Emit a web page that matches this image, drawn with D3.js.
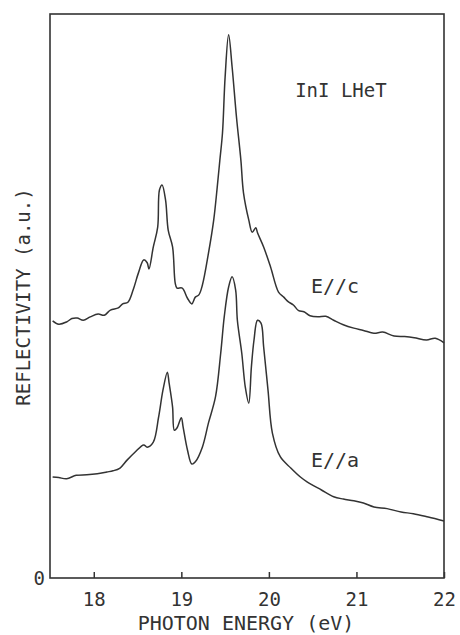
<!DOCTYPE html>
<html>
<head>
<meta charset="utf-8">
<script src="https://cdn.jsdelivr.net/npm/d3@7"></script>
<style>
  body { margin: 0; background: #fff; }
  text { font-family: "DejaVu Sans Mono", "Liberation Mono", monospace; fill: #333; }
</style>
</head>
<body>
<div id="vis-container"></div>
<script>
// photon energy (eV) / reflectivity (a.u.) for E//c
const energyC = [17.53, 17.6, 17.69, 17.75, 17.81, 17.88, 17.96, 18.05, 18.12, 18.19, 18.28, 18.33, 18.39, 18.45, 18.51, 18.57, 18.61, 18.63, 18.68, 18.73, 18.75, 18.78, 18.82, 18.85, 18.90, 18.93, 18.95, 19.01, 19.07, 19.12, 19.16, 19.20, 19.24, 19.31, 19.37, 19.41, 19.44, 19.47, 19.50, 19.54, 19.58, 19.63, 19.68, 19.71, 19.77, 19.81, 19.85, 19.87, 19.94, 20.02, 20.11, 20.17, 20.22, 20.28, 20.34, 20.40, 20.47, 20.56, 20.65, 20.74, 20.85, 20.97, 21.08, 21.20, 21.30, 21.43, 21.55, 21.66, 21.80, 21.9, 22.0]
const reflC   = [45.6, 45.0, 45.4, 46.0, 46.1, 45.7, 46.3, 46.8, 46.6, 47.5, 47.9, 48.6, 48.9, 51.1, 54.1, 56.4, 55.9, 54.8, 58.7, 62.2, 68.8, 69.7, 67.0, 61.7, 58.7, 52.3, 51.4, 51.4, 49.6, 48.6, 49.8, 50.2, 51.9, 57.6, 63.5, 69.3, 74.1, 78.9, 88.8, 96.3, 90.6, 81.7, 74.1, 68.3, 63.5, 61.3, 62.1, 61.2, 58.7, 55.1, 50.7, 49.8, 49.0, 48.4, 47.4, 47.2, 46.5, 46.3, 46.4, 45.7, 44.9, 44.3, 43.9, 43.4, 43.6, 42.9, 42.8, 42.6, 42.2, 42.5, 41.7]

// E//a
const energyA = [17.53, 17.6, 17.69, 17.8, 17.92, 18.04, 18.15, 18.22, 18.30, 18.38, 18.47, 18.57, 18.61, 18.68, 18.74, 18.79, 18.84, 18.86, 18.90, 18.92, 18.95, 19.00, 19.02, 19.07, 19.12, 19.16, 19.24, 19.31, 19.39, 19.45, 19.49, 19.54, 19.58, 19.62, 19.64, 19.69, 19.73, 19.77, 19.80, 19.83, 19.87, 19.91, 19.94, 19.99, 20.04, 20.13, 20.25, 20.36, 20.44, 20.60, 20.74, 20.85, 20.97, 21.08, 21.20, 21.35, 21.51, 21.65, 21.82, 22.0]
const reflA   = [17.9, 17.8, 17.6, 18.2, 18.3, 18.5, 18.8, 19.0, 19.5, 20.9, 22.3, 23.6, 23.2, 24.1, 28.5, 33.3, 36.5, 34.6, 30.3, 26.2, 26.6, 28.4, 26.8, 22.7, 20.2, 20.6, 23.2, 27.5, 32.1, 39.9, 46.3, 51.6, 53.4, 51.1, 45.7, 39.9, 33.9, 31.0, 37.4, 42.2, 45.7, 45.2, 41.0, 33.3, 25.7, 21.5, 19.5, 17.9, 17.0, 15.6, 14.4, 14.0, 13.7, 13.3, 12.6, 12.3, 11.7, 11.4, 10.8, 10.1]

const xTicks = [18, 19, 20, 21, 22]

const svgWidth = 460
const svgHeight = 635
const margin = { left: 50, right: 16, top: 14, bottom: 57 }
const width = svgWidth - margin.left - margin.right
const height = svgHeight - margin.top - margin.bottom

const svg = d3.select('#vis-container')
    .append('svg')
    .attr('width', svgWidth)
    .attr('height', svgHeight)

const g = svg.append('g')
    .attr('transform', `translate(${margin.left},${margin.top})`)

const xScale = d3.scaleLinear().domain([17.5, 22]).range([0, width])
const yScale = d3.scaleLinear().domain([0, 100]).range([height, 0])

// frame
g.append('rect')
    .attr('x', 0)
    .attr('y', 0)
    .attr('width', width)
    .attr('height', height)
    .attr('fill', 'none')
    .attr('stroke', '#333')
    .attr('stroke-width', 1.6)

// x axis, ticks pointing inward
const xAxis = d3.axisBottom(xScale)
    .tickValues(xTicks)
    .tickSizeInner(-6)
    .tickSizeOuter(0)
    .tickPadding(15)
    .tickFormat(d3.format('d'))

const ax = g.append('g')
    .attr('transform', `translate(0,${height})`)
    .call(xAxis)
ax.select('.domain').remove()
ax.selectAll('line').attr('stroke', '#333').attr('stroke-width', 1.5)
ax.selectAll('text')
    .style('font-size', '19px')
    .style('font-family', '"DejaVu Sans Mono", "Liberation Mono", monospace')
    .attr('fill', '#333')

// y "0"
g.append('text')
    .attr('x', -5)
    .attr('y', yScale(0))
    .attr('dy', '0.35em')
    .attr('text-anchor', 'end')
    .style('font-size', '19px')
    .text('0')

// curves
const line = d3.line()
    .x(d => xScale(d[0]))
    .y(d => yScale(d[1]))
    .curve(d3.curveCatmullRom.alpha(0.5))

const series = [
    d3.zip(energyC, reflC),
    d3.zip(energyA, reflA)
]

g.selectAll('path.curve')
    .data(series)
    .join('path')
    .attr('class', 'curve')
    .attr('d', line)
    .attr('fill', 'none')
    .attr('stroke', '#333')
    .attr('stroke-width', 1.5)
    .attr('stroke-linejoin', 'round')

// labels
g.append('text')
    .attr('x', xScale(20.3))
    .attr('y', yScale(85.3))
    .style('font-size', '19px')
    .text('InI LHeT')

g.append('text')
    .attr('x', xScale(20.48))
    .attr('y', yScale(50.5))
    .style('font-size', '20px')
    .text('E//c')

g.append('text')
    .attr('x', xScale(20.48))
    .attr('y', yScale(19.7))
    .style('font-size', '20px')
    .text('E//a')

// axis titles
svg.append('text')
    .attr('x', 246)
    .attr('y', 630)
    .attr('text-anchor', 'middle')
    .style('font-size', '20px')
    .text('PHOTON ENERGY (eV)')

svg.append('text')
    .attr('transform', 'translate(30,297) rotate(-90)')
    .attr('text-anchor', 'middle')
    .style('font-size', '19px')
    .text('REFLECTIVITY (a.u.)')
</script>
</body>
</html>
